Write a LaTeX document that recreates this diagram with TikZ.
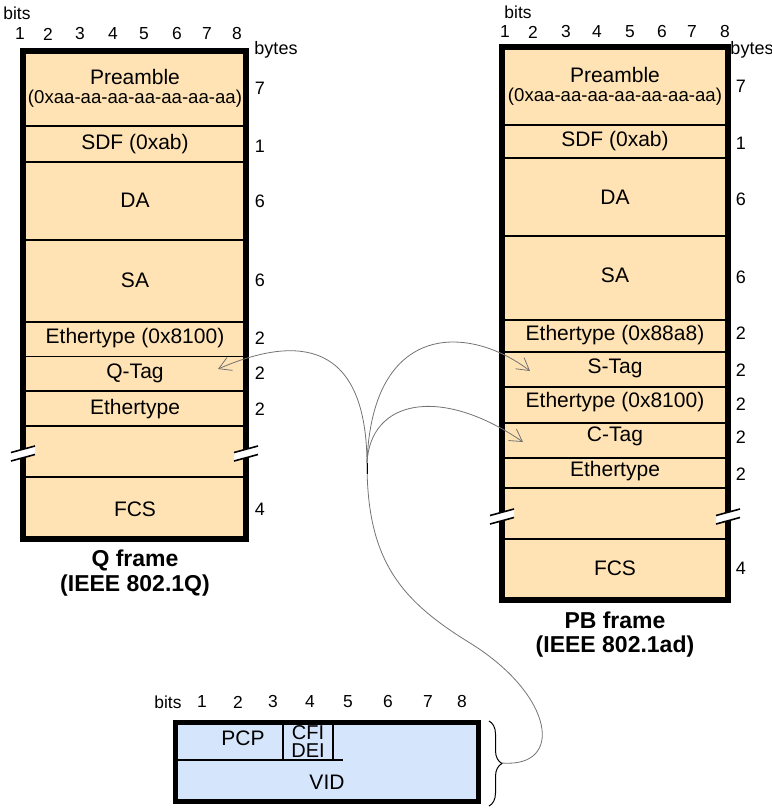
\documentclass[tikz,border=0pt]{standalone}
\usepackage{fontspec}
\setmainfont{Liberation Sans}
\usepackage{tikz}
\usetikzlibrary{arrows.meta,decorations.pathreplacing}
\definecolor{framefill}{RGB}{255,227,180}
\definecolor{tagfill}{RGB}{212,229,252}

\begin{document}
\begin{tikzpicture}
[x=0.5pt,y=-0.5pt]
\tikzset{
	frame/.style = {draw, line width=3pt, fill=framefill},
	tagbox/.style = {draw, line width=2.5pt, fill=tagfill},
	divider/.style = {line width=1.2pt},
	thinsep/.style = {line width=0.8pt},
	field/.style = {inner sep=0pt, font=\fontsize{10.5}{12}\selectfont},
	flag/.style = {inner sep=0pt, font=\fontsize{10}{11}\selectfont},
	hexval/.style = {inner sep=0pt, font=\fontsize{9.3}{11}\selectfont},
	bitnum/.style = {inner sep=0pt, font=\fontsize{8.7}{10}\selectfont},
	bytenum/.style = {inner sep=0pt, font=\fontsize{9}{10}\selectfont},
	caption/.style = {inner sep=0pt, font=\fontsize{11.5}{13}\selectfont\bfseries},
	link/.style = {draw=black!55, line width=0.4pt},
	tagarrow/.style = {-{Straight Barb[length=6pt,width=7pt]}}
}

\useasboundingbox (0,0) rectangle (772,810);

% Q frame
\draw[frame] (23,51) rectangle (246,539);
\foreach \y in {126,162,240,322,391,426,477}
	\draw[divider] (23,\y) -- (246,\y);
\draw[line width=0.5pt] (23,356) -- (246,356);

\node[bitnum] (qbits) at (17,13) {bits};
\foreach \n/\x in {1/20,2/48,3/80,4/113,5/144,6/177,7/207,8/237}
	\node[bitnum] (qbit\n) at (\x,34) {\n};
\node[bytenum] (qbytes) at (276,50) {bytes};
\foreach \n/\y [count=\i] in {7/88,1/146,6/201,6/280,2/338,2/373,2/409,4/509}
	\node[bytenum] (qbyte\i) at (260,\y) {\n};

\node[field] (qpre) at (135,77) {Preamble};
\node[hexval] (qprehex) at (135,99) {(0xaa-aa-aa-aa-aa-aa-aa)};
\node[field] (qsdf) at (135,144) {SDF (0xab)};
\node[field] (qda) at (135,200) {DA};
\node[field] (qsa) at (135,280) {SA};
\node[field] (qeth) at (135,338) {Ethertype (0x8100)};
\node[field] (qtag) at (135,373) {Q-Tag};
\node[field] (qtype) at (135,409) {Ethertype};
\node[field] (qfcs) at (135,509) {FCS};
\node[caption] (qname) at (135,560) {Q frame};
\node[caption] (qstd) at (135,586) {(IEEE 802.1Q)};

% PB frame
\draw[frame] (502,47) rectangle (728,600);
\foreach \y in {125,158,236,320,352,387,423,458,488,539}
	\draw[divider] (502,\y) -- (728,\y);

\node[bitnum] (pbits) at (518,12) {bits};
\foreach \n/\x in {1/505,2/533,3/566,4/597,5/630,6/662,7/692,8/725}
	\node[bitnum] (pbit\n) at (\x,32) {\n};
\node[bytenum] (pbytes) at (752,50) {bytes};
\foreach \n/\y [count=\i] in {7/86,1/143,6/199,6/277,2/333,2/370,2/404,2/437,2/474,4/568}
	\node[bytenum] (pbyte\i) at (741,\y) {\n};

\node[field] (ppre) at (615,75) {Preamble};
\node[hexval] (pprehex) at (615,97) {(0xaa-aa-aa-aa-aa-aa-aa)};
\node[field] (psdf) at (615,141) {SDF (0xab)};
\node[field] (pda) at (615,197) {DA};
\node[field] (psa) at (615,275) {SA};
\node[field] (peths) at (615,335) {Ethertype (0x88a8)};
\node[field] (pstag) at (615,368) {S-Tag};
\node[field] (pethc) at (615,402) {Ethertype (0x8100)};
\node[field] (pctag) at (615,436) {C-Tag};
\node[field] (ptype) at (615,471) {Ethertype};
\node[field] (pfcs) at (615,568) {FCS};
\node[caption] (pname) at (615,620) {PB frame};
\node[caption] (pstd) at (615,647) {(IEEE 802.1ad)};

% cut marks
\foreach \cx/\cy in {23/454,246/454,502/517,728/517}{
	\fill[white] ({\cx-12},{\cy-1.5}) -- ({\cx+12},{\cy-8}) -- ({\cx+12},{\cy+0.5}) -- ({\cx-12},{\cy+7}) -- cycle;
	\draw[thinsep] ({\cx-12},{\cy-1.5}) -- ({\cx+12},{\cy-8});
	\draw[thinsep] ({\cx-12},{\cy+7}) -- ({\cx+12},{\cy+0.5});
}

% tag layout
\draw[tagbox] (175,722) rectangle (478,801);
\draw[thinsep] (175,760) -- (343,760);
\draw[thinsep] (283,722) -- (283,760);
\draw[thinsep] (333,722) -- (333,760);

\node[bitnum] (tbits) at (168,702) {bits};
\foreach \n/\x in {1/202,2/238,3/273,4/310,5/348,6/388,7/428,8/462}
	\node[bitnum] (tbit\n) at (\x,702) {\n};
\node[field] (pcp) at (243,738) {PCP};
\node[flag] (cfi) at (308,733) {CFI};
\node[flag] (dei) at (308,751) {DEI};
\node[field] (vid) at (327,782) {VID};

\draw[line width=0.5pt, decorate, decoration={brace, amplitude=6.5pt}] (489,721) -- (489,806);

% links
\coordinate (hub) at (367,463);
\coordinate (qtip) at (218,369);
\coordinate (stip) at (530,371);
\coordinate (ctip) at (523,442);
\coordinate (bracetip) at (502,763);

\draw[link, tagarrow] (hub) .. controls (366,330) and (285,340) .. (qtip);
\draw[link, tagarrow] (hub) .. controls (372,320) and (470,325) .. (stip);
\draw[link, tagarrow] (hub) .. controls (370,400) and (440,385) .. (ctip);
\draw[link] (hub) .. controls (367,560) and (400,600) .. (470,643)
	.. controls (554,695) and (565,768) .. (bracetip);
\draw[line width=0.5pt] (hub) -- ++(0,11);

\end{tikzpicture}
\end{document}
